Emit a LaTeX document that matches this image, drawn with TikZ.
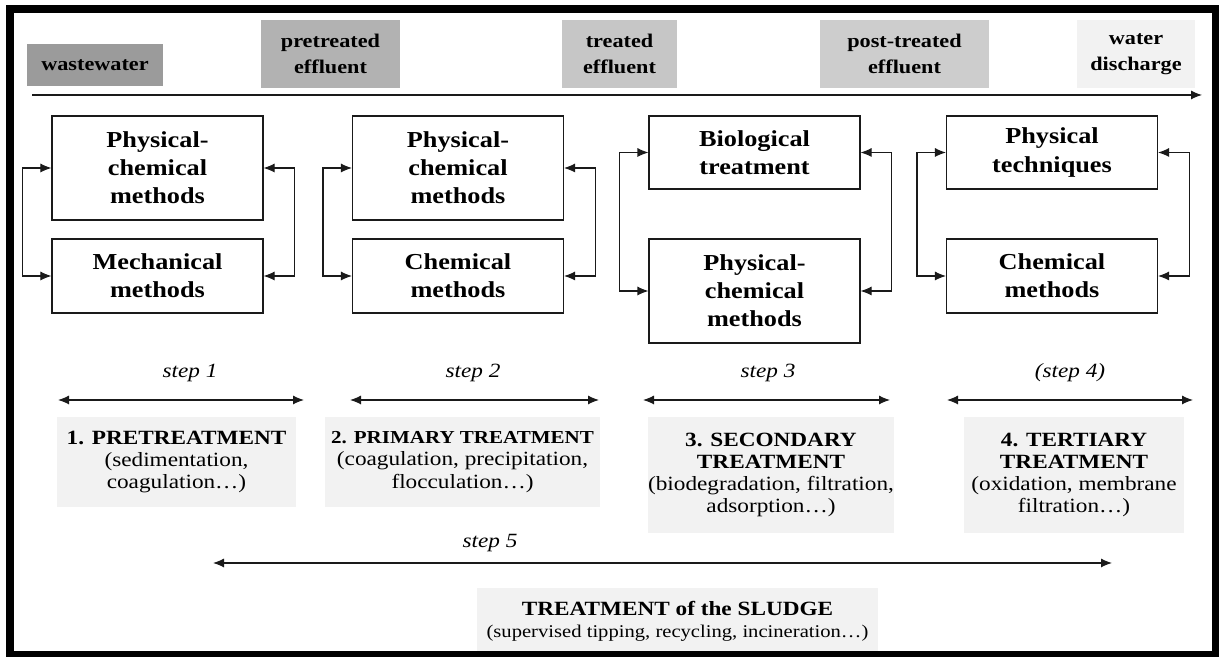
\documentclass[tikz,border=0pt]{standalone}
\usepackage{fontspec}
\setmainfont{Liberation Serif}[FakeStretch=1.15]
\usepackage{xcolor}
\usetikzlibrary{arrows.meta, positioning}
\definecolor{ink}{HTML}{1A1A1A}
\definecolor{grayA}{HTML}{9B9B9B}
\definecolor{grayB}{HTML}{B2B2B2}
\definecolor{grayC}{HTML}{C6C6C6}
\definecolor{grayD}{HTML}{CDCDCD}
\definecolor{grayE}{HTML}{F2F2F2}

\begin{document}
\begin{tikzpicture}[
  stage/.style={rectangle, minimum height=1.36cm, align=center, inner sep=0pt,
                font=\fontsize{11}{15}\selectfont\bfseries},
  method/.style={rectangle, draw=ink, line width=0.6pt, minimum width=4.22cm,
                 align=center, inner sep=0pt,
                 font=\fontsize{13}{16}\selectfont\bfseries},
  phase/.style={rectangle, fill=grayE, align=center, inner sep=0pt,
                font=\fontsize{11.5}{12.6}\selectfont},
  arr/.style={-{Latex[length=2.2mm, width=1.8mm]}, line width=0.6pt, draw=ink},
  twoway/.style={{Latex[length=2.2mm, width=1.8mm]}-{Latex[length=2.2mm, width=1.8mm]},
                 line width=0.6pt, draw=ink},
  steplbl/.style={font=\fontsize{11.5}{13}\selectfont\itshape},
]
\useasboundingbox (0,0) rectangle (24.38,13.14);
% ---------------- effluent along the line
\node[stage, fill=grayA, minimum width=2.72cm, minimum height=0.84cm] (waste) at (1.9,11.84) {wastewater};
\node[stage, fill=grayB, minimum width=2.78cm] (pre) at (6.61,12.06) {pretreated\\effluent};
\node[stage, fill=grayC, minimum width=2.3cm] (treated) at (12.39,12.06) {treated\\effluent};
\node[stage, fill=grayD, minimum width=3.38cm] (post) at (18.09,12.06) {post-treated\\effluent};
\node[stage, fill=grayE, minimum width=2.36cm] (discharge) at (22.72,12.06) {water\\discharge};
\coordinate (flowin) at (0.64,11.24);
\coordinate (flowout) at (24.04,11.24);
\draw[arr] (flowin) -- (flowout);
% ---------------- methods
\node[method, minimum height=2.08cm] (a1) at (3.15,9.78) {Physical-\\chemical\\methods};
\node[method, minimum height=1.48cm] (a2) at (3.15,7.62) {Mechanical\\methods};
\node[method, minimum height=2.08cm] (b1) at (9.16,9.78) {Physical-\\chemical\\methods};
\node[method, minimum height=1.48cm] (b2) at (9.16,7.62) {Chemical\\methods};
\node[method, minimum height=1.46cm] (c1) at (15.09,10.09) {Biological\\treatment};
\node[method, minimum height=2.08cm] (c2) at (15.09,7.32) {Physical-\\chemical\\methods};
\node[method, minimum height=1.46cm] (d1) at (21.04,10.09) {Physical\\techniques};
\node[method, minimum height=1.48cm] (d2) at (21.04,7.62) {Chemical\\methods};
\foreach \m in {a,b,c,d} {
  \draw[twoway] (\m1.west) -- ++(-0.58,0) |- (\m2.west);
  \draw[twoway] (\m1.east) -- ++(0.62,0) |- (\m2.east);
}
% ---------------- steps
\coordinate (s1l) at (1.16,5.14);  \coordinate (s1r) at (6.08,5.14);
\coordinate (s2l) at (7.0,5.14);   \coordinate (s2r) at (11.98,5.14);
\coordinate (s3l) at (12.86,5.14); \coordinate (s3r) at (17.8,5.14);
\coordinate (s4l) at (18.94,5.14); \coordinate (s4r) at (23.86,5.14);
\coordinate (s5l) at (4.26,1.88);  \coordinate (s5r) at (22.24,1.88);
\foreach \i in {1,...,5} {\draw[twoway] (s\i l) -- (s\i r);}
\node[steplbl] (step1) at (3.8,5.68) {step 1};
\node[steplbl] (step2) at (9.46,5.68) {step 2};
\node[steplbl] (step3) at (15.36,5.68) {step 3};
\node[steplbl] (step4) at (21.4,5.68) {(step 4)};
\node[steplbl] (step5) at (9.8,2.28) {step 5};
% ---------------- treatments
\node[phase, minimum width=4.78cm, minimum height=1.8cm] (t1) at (3.53,3.9)
      {\textbf{1. PRETREATMENT}\\(sedimentation,\\coagulation\ldots)};
\node[phase, minimum width=5.5cm, minimum height=1.8cm] (t2) at (9.25,3.9)
      {{\fontsize{10.4}{12.6}\selectfont\bfseries 2. PRIMARY TREATMENT}\\(coagulation, precipitation,\\flocculation\ldots)};
\node[phase, minimum width=4.88cm, minimum height=2.32cm] (t3) at (15.42,3.64)
      {\textbf{3. SECONDARY}\\\textbf{TREATMENT}\\(biodegradation, filtration,\\adsorption\ldots)};
\node[phase, minimum width=4.4cm, minimum height=2.32cm] (t4) at (21.48,3.64)
      {\textbf{4. TERTIARY}\\\textbf{TREATMENT}\\(oxidation, membrane\\filtration\ldots)};
\node[phase, minimum width=8.02cm, minimum height=1.34cm] (sludge) at (13.55,0.71)
      {\textbf{TREATMENT of the SLUDGE}\\{\fontsize{10.2}{12.6}\selectfont(supervised tipping, recycling, incineration\ldots)}};
% ---------------- frame
\draw[line width=0.17cm] (0.2,0.04) rectangle (24.32,12.96);
\end{tikzpicture}
\end{document}
